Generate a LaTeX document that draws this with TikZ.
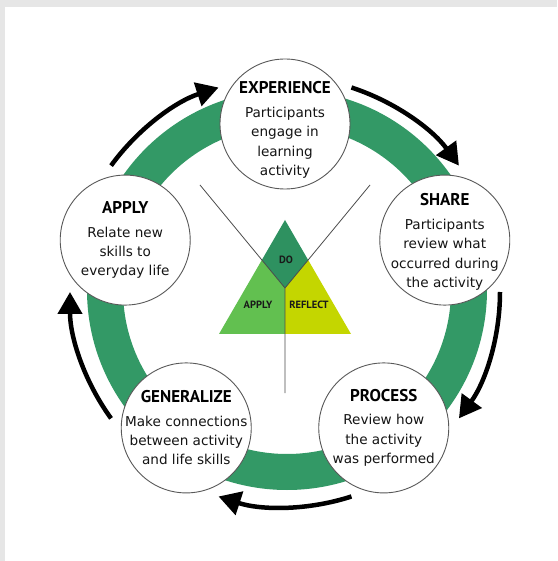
\documentclass[tikz,border=0pt]{standalone}
\usepackage{fontspec}
\setmainfont{DejaVu Sans}
\newfontfamily\headfont{PT Sans}
\usetikzlibrary{arrows.meta, calc}
\definecolor{ringgreen}{RGB}{51,153,102}
\definecolor{dogreen}{RGB}{46,145,96}
\definecolor{applygreen}{RGB}{98,192,80}
\definecolor{reflectgreen}{RGB}{196,214,0}
\definecolor{bordergray}{RGB}{230,230,230}

\tikzset{
  stage/.style={circle, draw=gray!70!black, line width=0.9pt, fill=white, minimum size=130pt, inner sep=0pt},
  stagetext/.style={align=center, font=\fontsize{13.6}{19.4}\selectfont, text=black!92},
  cyclearrow/.style={line width=4.5pt, ->},
  part/.style={font=\headfont\bfseries\fontsize{10.5}{12}\selectfont, text=black!90},
  divider/.style={gray!60!black, line width=0.8pt}
}
\newcommand{\stagehead}[1]{{\headfont\bfseries\fontsize{17}{20}\selectfont\color{black} #1}\\[4pt]}

\begin{document}
\begin{tikzpicture}[x=1pt, y=1pt, >={Triangle[length=22pt, width=24pt]}]
      \useasboundingbox (-285,-269) rectangle (272,292);
      \fill[bordergray] (-285,-269) rectangle (272,292);
      \fill[white] (-280,-269) rectangle (272,285);

      \fill[ringgreen, even odd rule] (2,2) circle (200) (2,2) circle (164);

      \foreach \a in {144,72,0,-72,-144}
        \draw[cyclearrow] (\a:215) arc[start angle=\a, end angle=\a-36, radius=215];

      \coordinate (top) at (0,72);
      \coordinate (left) at (-66,-42);
      \coordinate (right) at (66,-42);
      \coordinate (base) at (0,-42);
      \coordinate (mid) at (0,4);
      \coordinate (dl) at ($(top)!0.351!(left)$);
      \coordinate (dr) at ($(top)!0.351!(right)$);
      \coordinate (ul) at (-85,107);
      \coordinate (ur) at (85,107);
      \coordinate (dn) at (0,-101);

      \fill[applygreen] (left) -- (dl) -- (mid) -- (base) -- cycle;
      \fill[reflectgreen] (right) -- (dr) -- (mid) -- (base) -- cycle;
      \fill[dogreen] (top) -- (dl) -- (mid) -- (dr) -- cycle;
      \draw[divider] (ul) -- (mid) -- (ur) (mid) -- (dn);

      \node[part] (do) at (1,32) {DO};
      \node[part] (apply-part) at (-27,-13) {APPLY};
      \node[part] (reflect) at (24,-13) {REFLECT};

      \node[stage] (experience) at (90:168) {};
      \node[stage] (share) at (18:168) {};
      \node[stage] (process) at (-54:168) {};
      \node[stage] (generalize) at (234:168) {};
      \node[stage] (apply) at (162:168) {};

      \node[stagetext] (experience-text) at ([yshift=-6pt]experience) {\stagehead{EXPERIENCE}Participants\\engage in\\learning\\activity};
      \node[stagetext] (share-text) at ([yshift=-2pt]share) {\stagehead{SHARE}Participants\\review what\\occurred during\\the activity};
      \node[stagetext] (process-text) at (process) {\stagehead{PROCESS}Review how\\the activity\\was performed};
      \node[stagetext] (generalize-text) at (generalize) {\stagehead{GENERALIZE}Make connections\\between activity\\and life skills};
      \node[stagetext] (apply-text) at (apply) {\stagehead{APPLY}Relate new\\skills to\\everyday life};

    \end{tikzpicture}
\end{document}
